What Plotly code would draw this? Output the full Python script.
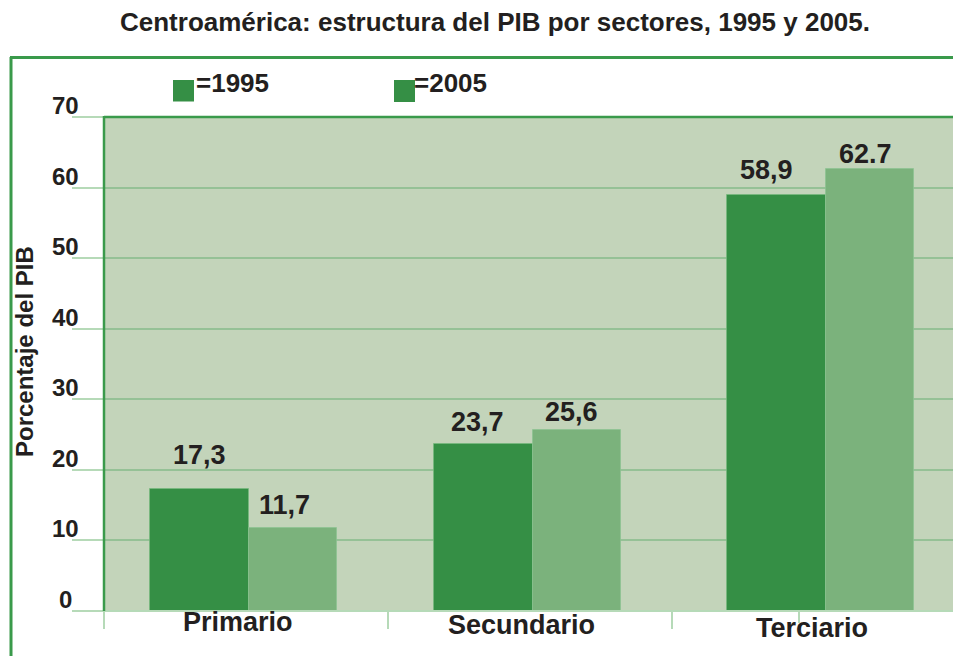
import plotly.graph_objects as go

# ---- data -------------------------------------------------------------
sectores = ["Primario", "Secundario", "Terciario"]
valores_1995 = [17.3, 23.7, 58.9]
valores_2005 = [11.7, 25.6, 62.7]
etiquetas_1995 = ["17,3", "23,7", "58,9"]
etiquetas_2005 = ["11,7", "25,6", "62.7"]
y_ticks = [0, 10, 20, 30, 40, 50, 60, 70]

# ---- page geometry (pixels) -------------------------------------------
W, H = 953, 656
PLOT_L, PLOT_T, PLOT_B = 104, 117, 611
CAT_PX = 284  # width of one category slot


def fx(px):
    return px / W


def fy(py):
    return 1 - py / H


# ---- colours / fonts --------------------------------------------------
DARK = "#358f45"
LIGHT = "#7bb27c"
PLOT_BG = "#c3d4ba"
FRAME = "#3a9a4b"
GRID = "#95c196"
TICK = "#b6dab8"
INK = "#231f20"
FONT = "Liberation Sans, Arial, sans-serif"

# bar placement inside each category slot
dark_offset = [-0.338, -0.338, -0.306]
dark_width = 0.347
light_offset = [o + dark_width for o in dark_offset]
light_width = 0.31

fig = go.Figure()
fig.add_trace(go.Bar(
    x=sectores, y=valores_1995, name="1995",
    offset=dark_offset, width=dark_width,
    marker=dict(color=DARK, line=dict(color="rgba(120,185,125,0.7)", width=1)),
    showlegend=False, hoverinfo="x+y",
))
fig.add_trace(go.Bar(
    x=sectores, y=valores_2005, name="2005",
    offset=light_offset, width=light_width,
    marker=dict(color=LIGHT, line=dict(color="rgba(140,195,145,0.7)", width=1)),
    showlegend=False, hoverinfo="x+y",
))

annotations = []

# value labels above the bars
lbl_font = dict(family=FONT, size=27, color=INK)
dark_xshift = [-47, -53, -48]
light_xshift = [38, 41, 51]
dark_gap = [24, 12, 15]
light_gap = [13, 8, 5]
for i, cat in enumerate(sectores):
    annotations.append(dict(
        x=cat, y=valores_1995[i], xref="x", yref="y", text=f"<b>{etiquetas_1995[i]}</b>",
        showarrow=False, xanchor="center", yanchor="bottom",
        xshift=dark_xshift[i], yshift=dark_gap[i] - 7, font=lbl_font))
    annotations.append(dict(
        x=cat, y=valores_2005[i], xref="x", yref="y", text=f"<b>{etiquetas_2005[i]}</b>",
        showarrow=False, xanchor="center", yanchor="bottom",
        xshift=light_xshift[i], yshift=light_gap[i] - 7, font=lbl_font))

# y tick labels, sitting just above their gridlines
for v in y_ticks:
    annotations.append(dict(
        x=fx(65), y=v, xref="paper", yref="y", text=f"<b>{v}</b>",
        showarrow=False, xanchor="center", yanchor="bottom", yshift=-4,
        font=dict(family=FONT, size=24, color=INK)))

# category labels
cat_xshift = [-8, -9, -2]
cat_base = [632, 635, 638]
for i, cat in enumerate(sectores):
    annotations.append(dict(
        x=cat, y=fy(cat_base[i] + 7), xref="x", yref="paper", text=f"<b>{cat}</b>",
        showarrow=False, xanchor="center", yanchor="bottom", xshift=cat_xshift[i],
        font=dict(family=FONT, size=27, color=INK)))

# title
annotations.append(dict(
    x=fx(495), y=fy(39), xref="paper", yref="paper",
    text="<b>Centroamérica: estructura del PIB por sectores, 1995 y 2005.</b>",
    showarrow=False, xanchor="center", yanchor="bottom",
    font=dict(family=FONT, size=26, color=INK)))

# y axis title
annotations.append(dict(
    x=fx(24), y=fy(352), xref="paper", yref="paper",
    text="<b>Porcentaje del PIB</b>", textangle=-90,
    showarrow=False, xanchor="center", yanchor="middle",
    font=dict(family=FONT, size=24, color=INK)))

# legend texts
annotations.append(dict(
    x=fx(194), y=fy(100), xref="paper", yref="paper", text="<b>=1995</b>",
    showarrow=False, xanchor="left", yanchor="bottom",
    font=dict(family=FONT, size=26, color=INK)))
annotations.append(dict(
    x=fx(412), y=fy(100), xref="paper", yref="paper", text="<b>=2005</b>",
    showarrow=False, xanchor="left", yanchor="bottom",
    font=dict(family=FONT, size=26, color=INK)))

shapes = [
    # outer frame
    dict(type="line", xref="paper", yref="paper", x0=fx(11), x1=fx(11), y0=fy(57), y1=fy(H + 5),
         line=dict(color=FRAME, width=3)),
    dict(type="line", xref="paper", yref="paper", x0=fx(10), x1=1.01, y0=fy(57.5), y1=fy(57.5),
         line=dict(color=FRAME, width=3)),
    # legend swatches
    dict(type="rect", xref="paper", yref="paper", x0=fx(173), x1=fx(194), y0=fy(80), y1=fy(101.5),
         fillcolor=DARK, line=dict(width=0)),
    dict(type="rect", xref="paper", yref="paper", x0=fx(394), x1=fx(415), y0=fy(80), y1=fy(102),
         fillcolor=DARK, line=dict(width=0)),
    # bottom axis line (runs a little past the plot on the left)
    dict(type="line", xref="paper", yref="paper", x0=fx(86), x1=1.01, y0=fy(PLOT_B), y1=fy(PLOT_B),
         line=dict(color=TICK, width=2), layer="above"),
    # extra short tick under the third group
    dict(type="line", xref="paper", yref="paper", x0=fx(799), x1=fx(799), y0=fy(PLOT_B), y1=fy(623),
         line=dict(color=TICK, width=2)),
    # dark plot border: top and left
    dict(type="line", xref="paper", yref="paper", x0=fx(PLOT_L), x1=1.01, y0=fy(PLOT_T), y1=fy(PLOT_T),
         line=dict(color=FRAME, width=2.5), layer="above"),
    dict(type="line", xref="paper", yref="paper", x0=fx(PLOT_L), x1=fx(PLOT_L), y0=fy(PLOT_B), y1=fy(PLOT_T - 1),
         line=dict(color=FRAME, width=2.5), layer="above"),
]

n_span = (W - PLOT_L) / CAT_PX
fig.update_layout(
    width=W, height=H,
    margin=dict(l=0, r=0, t=0, b=0),
    paper_bgcolor="white",
    plot_bgcolor=PLOT_BG,
    barmode="overlay",
    bargap=0,
    font=dict(family=FONT, color=INK),
    xaxis=dict(
        domain=[fx(PLOT_L), 1],
        range=[-0.5, -0.5 + n_span],
        type="category",
        showgrid=False, zeroline=False, showline=False,
        showticklabels=False,
        ticks="outside", tickson="boundaries", ticklen=17, tickwidth=2, tickcolor=TICK,
    ),
    yaxis=dict(
        domain=[fy(PLOT_B), fy(PLOT_T)],
        range=[0, 70],
        tickvals=y_ticks,
        showticklabels=False,
        showgrid=True, gridcolor=GRID, gridwidth=2,
        zeroline=False, showline=False,
        ticks="outside", ticklen=31, tickwidth=2, tickcolor=TICK,
    ),
    annotations=annotations,
    shapes=shapes,
)

fig.write_html("out.html")
